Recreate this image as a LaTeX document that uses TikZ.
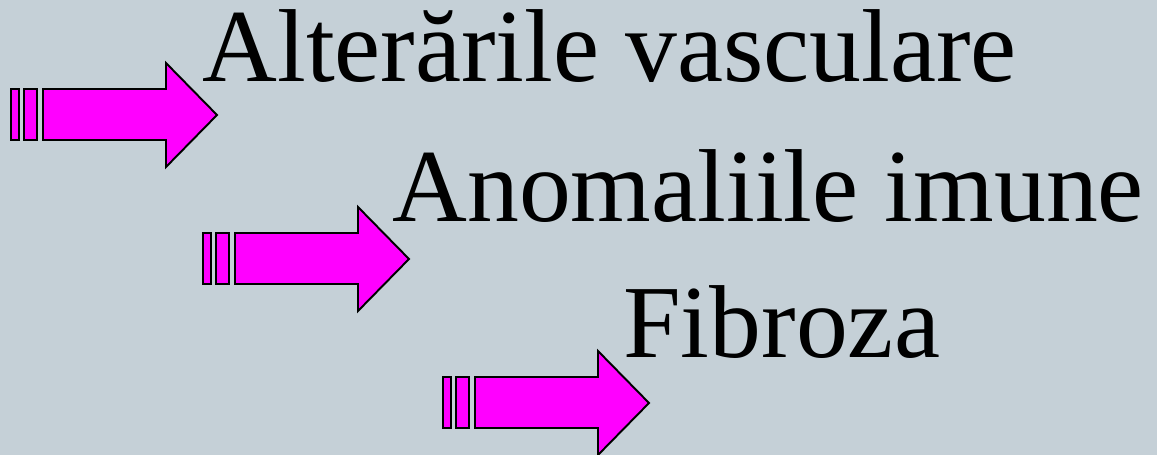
\documentclass[tikz,border=0pt]{standalone}
\usepackage{fontspec}
\setmainfont{Liberation Serif}
\usetikzlibrary{
    calc,          % calcoli con coordinate
    positioning    % posizionamento dei nodi
}

\definecolor{sfondo}{RGB}{197,208,215}
\definecolor{magenta}{RGB}{255,0,255}

\tikzset{
    freccia/.style={fill=magenta, draw=black, line width=1.1pt, line join=miter},
    titolo/.style={anchor=base west, inner sep=0pt, font=\fontsize{59}{70}\selectfont},
    pics/frecciastriata/.style={code={
        % due barrette
        \filldraw[freccia] (-206,-26) rectangle (-198,25);
        \filldraw[freccia] (-193,-26) rectangle (-180,25);
        % corpo e punta
        \filldraw[freccia] (-174,-26) -- (-51,-26) -- (-51,-52) -- (0,0)
            -- (-51,52) -- (-51,25) -- (-174,25) -- cycle;
    }}
}

\begin{document}
\begin{tikzpicture}[x=0.02cm, y=-0.02cm]

        % sfondo
        \fill[sfondo] (0,0) rectangle (1157,455);
        \useasboundingbox (0,0) rectangle (1157,455);

        % punte delle frecce
        \coordinate (punta1) at (217,115);
        \coordinate (punta2) at (409,259);
        \coordinate (punta3) at (649,403);

        % frecce
        \pic at (punta1) {frecciastriata};
        \pic at (punta2) {frecciastriata};
        \pic at (punta3) {frecciastriata};

        % testi
        \node[titolo] (alterari) at (202,82) {Alterările vasculare};
        \node[titolo] (anomalii) at (392,222) {Anomaliile imune};
        \node[titolo] (fibroza) at (623,358) {Fibroza};

    \end{tikzpicture}
\end{document}
